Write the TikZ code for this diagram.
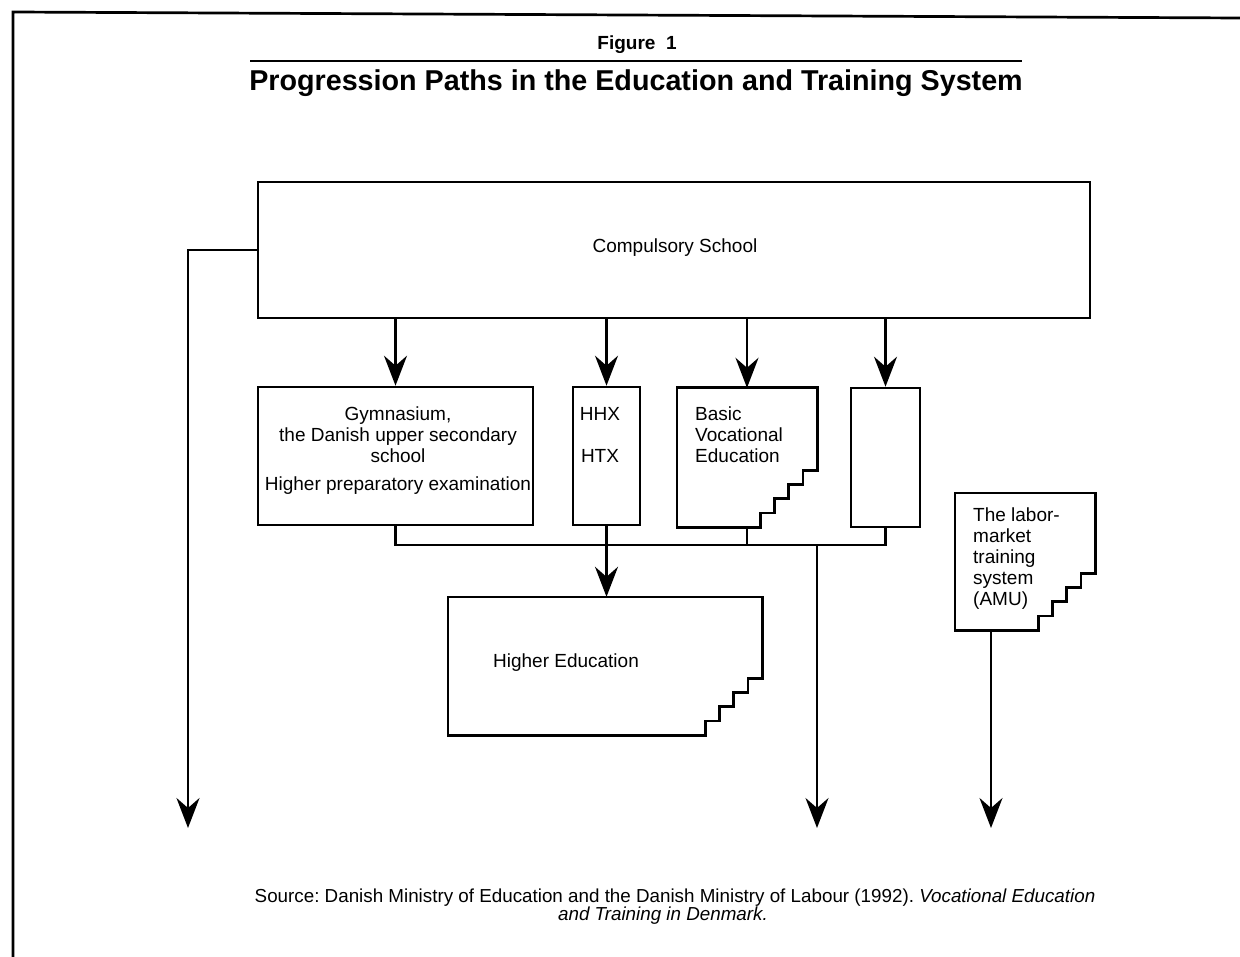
\documentclass[tikz,border=0pt]{standalone}
\usepackage{fontspec}
\setmainfont{Liberation Sans}
\usetikzlibrary{arrows.meta,calc}
\frenchspacing
% box whose lower right corner is cut away as a four-step staircase
\newcommand\stairbox[1]{%
  \draw[outline] (#1.south west) -- (#1.north west) -- (#1.north east)
    -- ($(#1.south east)+(0,-57)$)
    \foreach \k in {1,...,4}{ -- ++(-14.25,0) -- ++(0,14.25)} -- cycle;}
\begin{document}
\begin{tikzpicture}[x=1pt,y=-1pt,
  outline/.style={line width=2.6pt},
  box/.style={draw, rectangle, inner sep=0pt, outline},
  shape only/.style={rectangle, inner sep=0pt},
  txt/.style={inner sep=0pt, font=\fontsize{19}{21}\selectfont},
  link/.style={line width=2.4pt},
  arr/.style={link, -{Stealth[length=30pt,width=23pt,inset=10pt]}}]
\useasboundingbox (0,0) rectangle (1240,957);

% page frame
\coordinate (frameBL) at (13,957);
\coordinate (frameTL) at (13,12);
\coordinate (frameTR) at (1240,18);
\draw[line width=2.7pt] (frameBL) -- (frameTL) -- (frameTR);

% heading
\node[font=\bfseries\fontsize{19}{21}\selectfont, inner sep=0pt] (fig) at (637,45) {Figure\ \ 1};
\coordinate (ruleL) at (250,61);
\coordinate (ruleR) at (1022,61);
\draw[line width=2pt] (ruleL) -- (ruleR);
\node[font=\bfseries\fontsize{28.7}{30}\selectfont, inner sep=0pt] (title) at (636,83)
  {Progression Paths in the Education and Training System};

% boxes
\node[box, minimum width=832, minimum height=136] (comp) at (674,250) {};
\node[txt] (compT) at (675,248) {Compulsory School};

\node[box, minimum width=275, minimum height=138] (gym) at (395.5,456) {};
\node[txt, align=center] (gymT) at (398,435) {Gymnasium,\\the Danish upper secondary\\school};
\node[txt] (gymT2) at (398,486) {Higher preparatory examination};

\node[box, minimum width=67, minimum height=138] (hhx) at (606.5,456) {};
\node[txt] (hhxT) at (600,414) {HHX};
\node[txt] (htxT) at (600,456) {HTX};

\node[shape only, minimum width=140, minimum height=139] (bve) at (747,457.5) {};
\stairbox{bve}
\node[txt, align=left, anchor=west] (bveT) at (695,435) {Basic\\Vocational\\Education};

\node[box, minimum width=69, minimum height=139] (fourth) at (885.5,457.5) {};

\node[shape only, minimum width=314, minimum height=138] (higher) at (605,666) {};
\stairbox{higher}
\node[txt] (higherT) at (566,663) {Higher Education};

\node[shape only, minimum width=140, minimum height=137] (amu) at (1025,561.5) {};
\stairbox{amu}
\node[txt, align=left, anchor=west] (amuT) at (973,559)
  {The labor-\\market\\training\\system\\(AMU)};

% paths out of compulsory school
\foreach \b in {gym,hhx,bve,fourth}
  \draw[arr] (\b.north |- comp.south) -- (\b.north);

% collecting line under the upper secondary boxes
\coordinate (bus) at (0,545);
\draw[link] (gym.south) -- (gym.south |- bus) -- (fourth.south |- bus) -- (fourth.south);
\draw[link] (bve.south) -- (bve.south |- bus);
\draw[arr] (hhx.south) -- (hhx.south |- higher.north);

% exits to the labour market
\coordinate (out1) at (188,828);
\coordinate (out2) at (817,828);
\coordinate (out3) at (991,828);
\draw[arr] (comp.west) -- (comp.west -| out1) -- (out1);
\draw[arr] (out2 |- bus) -- (out2);
\draw[arr] (out3 |- amu.south) -- (out3);

% source note
\node[font=\fontsize{18.8}{20}\selectfont, inner sep=0pt] (src1) at (675,898)
  {Source: Danish Ministry of Education and the Danish Ministry of Labour (1992). \textit{Vocational Education}};
\node[font=\fontsize{18.8}{20}\selectfont, inner sep=0pt] (src2) at (663,916)
  {\textit{and Training in Denmark.}};
\end{tikzpicture}
\end{document}
